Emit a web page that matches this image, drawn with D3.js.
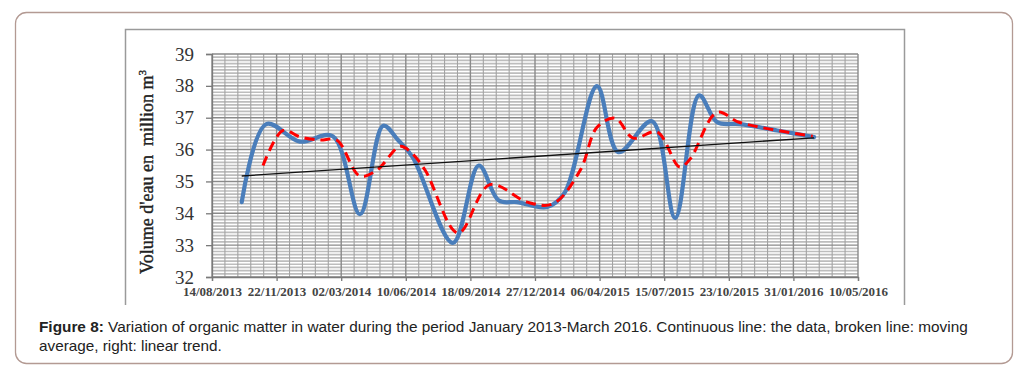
<!DOCTYPE html>
<html><head><meta charset="utf-8">
<script src="https://cdn.jsdelivr.net/npm/d3@7"></script>
<style>body{margin:0;background:#fff}svg{display:block}</style>
</head><body>
<svg id="c" width="1028" height="366"></svg>
<script>
// ---- data ----
const xTickLabels = ["14/08/2013","22/11/2013","02/03/2014","10/06/2014","18/09/2014","27/12/2014","06/04/2015","15/07/2015","23/10/2015","31/01/2016","10/05/2016"];
const yTickValues = [32,33,34,35,36,37,38,39];
const dataDates = ["2013-09-29","2013-11-06","2013-12-28","2014-02-17","2014-03-31","2014-05-06","2014-05-29","2014-06-21","2014-08-22","2014-10-01","2014-11-01","2014-11-29","2015-01-15","2015-02-11","2015-04-02","2015-05-05","2015-06-26","2015-08-01","2015-09-07","2015-10-05","2015-11-09","2016-01-06","2016-03-03"];
const dataValues = [34.35,36.8,36.25,36.42,33.97,36.75,36.3,35.75,33.07,35.5,34.4,34.35,34.2,34.65,37.99,35.92,36.89,33.85,37.7,36.86,36.8,36.6,36.39];
const maDates = ["2013-11-01","2013-12-02","2013-12-28","2014-01-28","2014-02-23","2014-03-31","2014-04-26","2014-06-01","2014-06-16","2014-07-10","2014-08-30","2014-10-18","2014-12-15","2015-01-24","2015-03-07","2015-04-02","2015-04-30","2015-05-28","2015-07-04","2015-08-08","2015-08-24","2015-10-05","2015-11-09","2016-03-01"];
const maValues = [35.5,36.6,36.4,36.3,36.3,35.17,35.35,36.1,35.95,35.35,33.38,34.9,34.35,34.3,35.35,36.7,36.99,36.36,36.55,35.45,35.7,37.17,36.85,36.42];
const trendDates = ["2013-09-29","2016-03-03"];
const trendValues = [35.17,36.37];
const yLabel = "Volume d'eau en  million m";
const captionBold = "Figure 8:";
const captionLine1 = " Variation of organic matter in water during the period January 2013-March 2016. Continuous line: the data, broken line: moving";
const captionLine2 = "average, right: linear trend.";

// ---- drawing ----
const svg = d3.select("#c");
const pTick = d3.utcParse("%d/%m/%Y");
const pIso = d3.utcParse("%Y-%m-%d");
const tickDates = xTickLabels.map(pTick);

// outer frame
svg.append("rect").attr("x",15.5).attr("y",12.5).attr("width",997).attr("height",351)
  .attr("rx",11).attr("fill","none").attr("stroke","#b39a93").attr("stroke-width",1.3);

// inner chart box (left, top, right)
svg.append("path").attr("d","M125.5,305 V29.5 H904.5 V305").attr("fill","none")
  .attr("stroke","#9a9a9a").attr("stroke-width",1.5);

const x = d3.scaleUtc().domain([tickDates[0], tickDates[tickDates.length-1]]).range([212,858]);
const y = d3.scaleLinear().domain([32,39]).range([277,54]);

const g = svg.append("g");
// minor horizontal grid every 0.1
const minorY = d3.range(320,391).map(v=>v/10).filter(v=>Math.abs(v-Math.round(v))>1e-6);
g.selectAll(".hm").data(minorY).join("line")
  .attr("x1",212).attr("x2",858).attr("y1",d=>y(d)).attr("y2",d=>y(d))
  .attr("stroke","#bdbdbd").attr("stroke-width",1.7);
// minor vertical grid (5 per major interval)
const minorX = [];
for(let i=0;i<tickDates.length-1;i++){
  const a=x(tickDates[i]), b=x(tickDates[i+1]);
  for(let k=1;k<5;k++) minorX.push(a+(b-a)*k/5);
}
g.selectAll(".vm").data(minorX).join("line")
  .attr("x1",d=>d).attr("x2",d=>d).attr("y1",54).attr("y2",277)
  .attr("stroke","#a3a3a3").attr("stroke-width",1.1);
// major grid
g.selectAll(".hM").data(yTickValues).join("line")
  .attr("x1",212).attr("x2",858).attr("y1",d=>y(d)).attr("y2",d=>y(d))
  .attr("stroke","#8a8a8a").attr("stroke-width",1.4);
g.selectAll(".vM").data(tickDates).join("line")
  .attr("x1",d=>x(d)).attr("x2",d=>x(d)).attr("y1",54).attr("y2",277)
  .attr("stroke","#8a8a8a").attr("stroke-width",1.4);

// axes
const yAxis = svg.append("g").attr("transform","translate(212,0)")
  .call(d3.axisLeft(y).tickValues(yTickValues).tickSize(6).tickPadding(12).tickFormat(d3.format("d")));
yAxis.select(".domain").attr("stroke","#7a7a7a").attr("stroke-width",1.3);
yAxis.selectAll(".tick line").attr("stroke","#7a7a7a").attr("stroke-width",1.3);
yAxis.selectAll(".tick text").attr("font-family","'Liberation Serif', serif").attr("font-size",19).attr("fill","#333");

const xAxis = svg.append("g").attr("transform","translate(0,277)")
  .call(d3.axisBottom(x).tickValues(tickDates).tickSize(4).tickPadding(6).tickFormat((d,i)=>xTickLabels[i]));
xAxis.select(".domain").attr("stroke","#7a7a7a").attr("stroke-width",1.3);
xAxis.selectAll(".tick line").attr("stroke","#7a7a7a").attr("stroke-width",1.3);
xAxis.selectAll(".tick text").attr("font-family","'Liberation Serif', serif").attr("font-size",13)
  .attr("font-weight","bold").attr("fill","#444");

// y label
const yl = svg.append("text").attr("transform","translate(153,172) rotate(-90)")
  .attr("text-anchor","middle").attr("font-family","'Liberation Serif', serif")
  .attr("font-size",18).attr("fill","#222").attr("stroke","#222").attr("stroke-width",0.35)
  .attr("xml:space","preserve");
yl.append("tspan").text(yLabel);
yl.append("tspan").attr("dy",-7).attr("font-size",11).text("3");

// lines
const line = d3.line().x(d=>x(d[0])).y(d=>y(d[1])).curve(d3.curveCatmullRom);
const dataPts = dataDates.map((d,i)=>[pIso(d),dataValues[i]]);
const maPts = maDates.map((d,i)=>[pIso(d),maValues[i]]);
const trPts = trendDates.map((d,i)=>[pIso(d),trendValues[i]]);

svg.append("path").attr("d",line(dataPts)).attr("fill","none")
  .attr("stroke","#4a7ebb").attr("stroke-width",4.2).attr("stroke-linejoin","round").attr("stroke-linecap","round");
svg.append("path").attr("d",line(maPts)).attr("fill","none")
  .attr("stroke","#ff0000").attr("stroke-width",3).attr("stroke-dasharray","10,6");
svg.append("path").attr("d",d3.line().x(d=>x(d[0])).y(d=>y(d[1]))(trPts)).attr("fill","none")
  .attr("stroke","#111").attr("stroke-width",1.3);

// caption
function capLine(yy, parts, target){
  const t = svg.append("text").attr("x",39).attr("y",yy).attr("font-family","'Liberation Sans', Arial, sans-serif")
    .attr("font-size",14).attr("fill","#222").attr("xml:space","preserve");
  parts.forEach(p=>t.append("tspan").attr("font-weight",p[1]?"bold":"normal").text(p[0]));
  const w = t.node().getComputedTextLength();
  if(target) t.attr("transform",`translate(39,0) scale(${target/w},1) translate(-39,0)`);
  return t;
}
capLine(332,[[captionBold,true],[captionLine1,false]],929);
capLine(351,[[captionLine2,false]],183);
</script>
</body></html>
